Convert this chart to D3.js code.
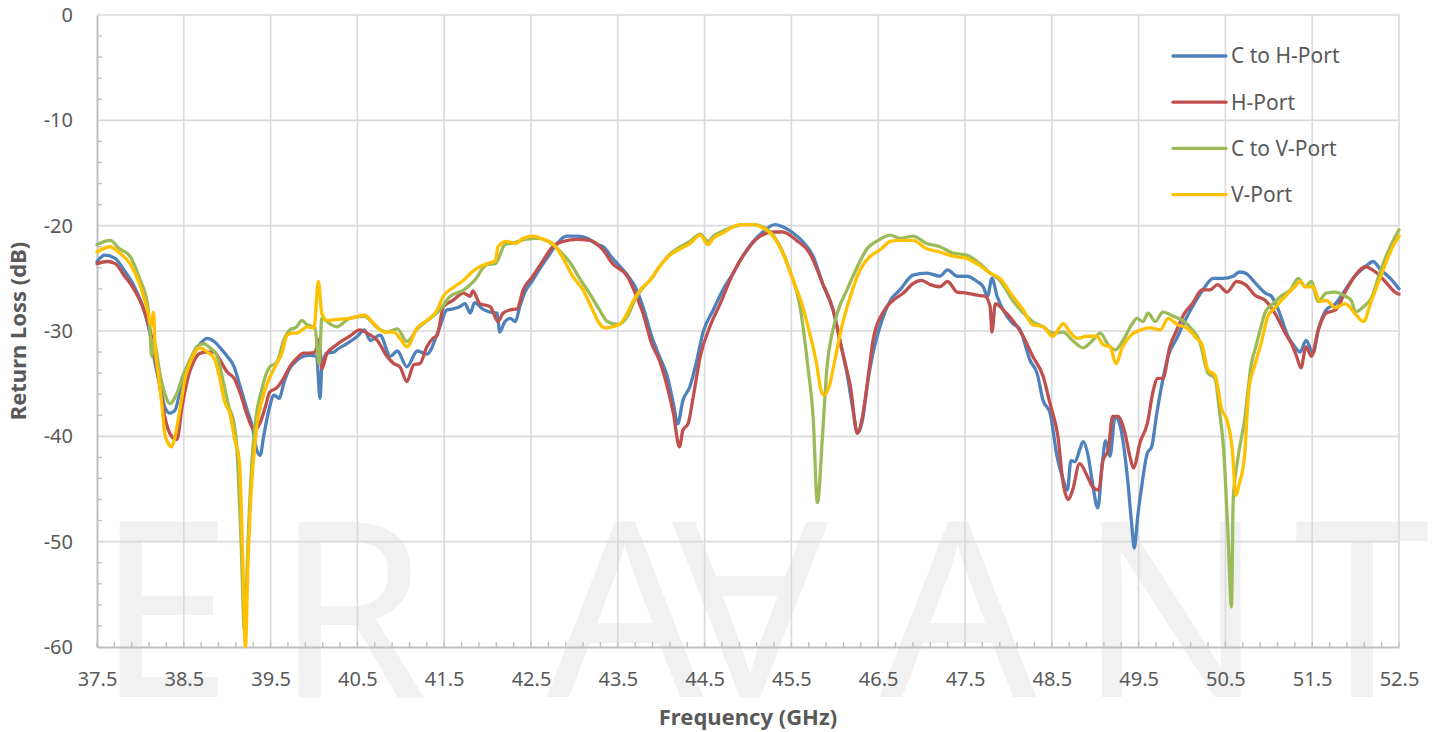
<!DOCTYPE html>
<html>
<head>
<meta charset="utf-8">
<script src="https://cdn.jsdelivr.net/npm/d3@7"></script>
<style>
  body { margin: 0; background: #fff; }
  svg { display: block; font-family: "Noto Sans", "Open Sans", sans-serif; }
</style>
</head>
<body>
<div class="chart"></div>
<script>
// Return loss data: [frequency GHz, dB]
const cToHPort = [
  [37.5, -23.4], [37.59, -22.8], [37.71, -23.1], [37.81, -24.2], [37.93, -25.8], [38.04, -28.0],
  [38.11, -30.2], [38.17, -33.1], [38.23, -35.3], [38.28, -37.2], [38.34, -37.8], [38.4, -37.5],
  [38.46, -35.6], [38.54, -33.4], [38.62, -32.0], [38.69, -31.2], [38.77, -30.7], [38.85, -31.0],
  [38.92, -31.6], [39.0, -32.4], [39.08, -33.4], [39.15, -35.3], [39.23, -37.5], [39.29, -39.1],
  [39.34, -41.3], [39.38, -41.8], [39.42, -40.0], [39.48, -37.5], [39.54, -36.1], [39.6, -36.4],
  [39.65, -35.0], [39.71, -33.7], [39.8, -32.8], [39.88, -32.4], [39.95, -32.3], [40.03, -32.4],
  [40.07, -36.4], [40.09, -33.4], [40.15, -32.1], [40.23, -32.0], [40.26, -31.8], [40.38, -31.2],
  [40.5, -30.5], [40.58, -29.9], [40.65, -30.9], [40.76, -30.4], [40.88, -32.4], [40.96, -31.9],
  [41.07, -33.4], [41.19, -31.9], [41.3, -32.2], [41.45, -29.6], [41.53, -28.0], [41.6, -27.9],
  [41.68, -27.7], [41.74, -27.4], [41.8, -28.3], [41.85, -27.3], [41.94, -27.9], [42.03, -28.2],
  [42.11, -28.3], [42.14, -30.1], [42.2, -29.1], [42.26, -28.8], [42.32, -29.1], [42.37, -27.7],
  [42.43, -26.3], [42.51, -25.3], [42.6, -24.1], [42.7, -22.9], [42.8, -21.7], [42.91, -21.0],
  [43.03, -21.0], [43.15, -21.2], [43.26, -21.8], [43.33, -22.0], [43.44, -23.1], [43.61, -24.7],
  [43.7, -25.8], [43.79, -27.7], [43.89, -30.5], [43.98, -32.4], [44.07, -34.3], [44.14, -36.9],
  [44.19, -38.8], [44.25, -36.6], [44.33, -35.3], [44.41, -32.8], [44.48, -30.2], [44.6, -28.0],
  [44.71, -26.1], [44.83, -24.5], [44.94, -22.9], [45.06, -21.5], [45.17, -20.6], [45.31, -19.9],
  [45.4, -20.1], [45.52, -20.7], [45.63, -21.5], [45.75, -22.9], [45.86, -25.5], [45.98, -28.0],
  [46.06, -30.9], [46.14, -34.0], [46.21, -37.5], [46.26, -39.7], [46.31, -38.8], [46.39, -34.3],
  [46.44, -32.1], [46.52, -29.6], [46.64, -27.1], [46.75, -26.1], [46.9, -24.7], [47.06, -24.5],
  [47.21, -24.8], [47.3, -24.2], [47.41, -24.8], [47.52, -24.8], [47.64, -25.3], [47.71, -25.8],
  [47.76, -26.7], [47.81, -25.0], [47.87, -26.7], [47.94, -28.0], [48.05, -29.3], [48.13, -29.8],
  [48.25, -32.8], [48.33, -34.0], [48.4, -36.6], [48.48, -37.8], [48.56, -41.9], [48.62, -43.8],
  [48.68, -45.1], [48.72, -42.3], [48.77, -42.4], [48.82, -41.3], [48.86, -40.5], [48.92, -41.9],
  [48.97, -44.5], [49.03, -46.8], [49.08, -42.7], [49.12, -40.4], [49.17, -41.9], [49.23, -38.1],
  [49.29, -39.1], [49.37, -43.8], [49.42, -48.3], [49.45, -50.6], [49.49, -47.6], [49.54, -44.5],
  [49.6, -41.6], [49.65, -41.0], [49.71, -37.8], [49.77, -35.0], [49.84, -32.4], [49.94, -30.7],
  [50.03, -29.1], [50.12, -27.7], [50.24, -26.1], [50.36, -25.0], [50.47, -25.0], [50.59, -24.8],
  [50.66, -24.4], [50.73, -24.5], [50.85, -25.5], [50.96, -26.4], [51.03, -26.7], [51.11, -28.0],
  [51.22, -30.5], [51.3, -31.5], [51.36, -32.0], [51.43, -30.9], [51.51, -32.1], [51.57, -29.9],
  [51.66, -28.0], [51.77, -27.4], [51.88, -26.1], [51.99, -24.8], [52.11, -23.9], [52.2, -23.4],
  [52.29, -24.2], [52.4, -25.0], [52.5, -26.0]
];

const hPort = [
  [37.5, -23.6], [37.62, -23.4], [37.71, -23.6], [37.81, -24.7], [37.93, -26.1], [38.04, -28.0],
  [38.11, -29.9], [38.17, -32.4], [38.23, -35.6], [38.28, -38.1], [38.36, -40.0], [38.42, -40.3],
  [38.48, -37.2], [38.54, -34.7], [38.62, -32.8], [38.69, -32.1], [38.77, -32.0], [38.85, -32.0],
  [38.92, -32.8], [39.0, -33.9], [39.08, -34.5], [39.15, -35.9], [39.23, -38.0], [39.29, -39.2],
  [39.32, -39.4], [39.38, -38.7], [39.44, -37.2], [39.49, -35.8], [39.57, -35.4], [39.65, -34.5],
  [39.72, -33.4], [39.8, -32.6], [39.88, -32.1], [39.95, -32.1], [40.01, -32.0], [40.06, -30.8],
  [40.09, -33.6], [40.15, -32.1], [40.23, -31.5], [40.26, -31.3], [40.41, -30.5], [40.53, -29.9],
  [40.61, -30.2], [40.73, -30.9], [40.84, -32.4], [40.92, -33.1], [40.99, -33.4], [41.07, -34.8],
  [41.15, -33.2], [41.22, -33.1], [41.3, -31.5], [41.37, -30.7], [41.42, -30.4], [41.49, -27.7],
  [41.6, -27.1], [41.72, -26.4], [41.8, -26.7], [41.83, -26.2], [41.91, -27.4], [42.03, -27.7],
  [42.12, -29.1], [42.18, -28.3], [42.26, -28.0], [42.34, -27.9], [42.41, -26.1], [42.52, -24.8],
  [42.64, -23.3], [42.75, -22.0], [42.87, -21.5], [43.03, -21.3], [43.18, -21.4], [43.33, -22.3],
  [43.44, -23.6], [43.61, -24.8], [43.7, -26.4], [43.79, -28.3], [43.89, -31.2], [43.98, -32.8],
  [44.07, -35.3], [44.14, -37.8], [44.21, -41.0], [44.25, -39.4], [44.31, -38.8], [44.37, -36.2],
  [44.45, -32.4], [44.56, -29.6], [44.68, -27.4], [44.83, -24.5], [44.99, -22.3], [45.14, -21.0],
  [45.29, -20.6], [45.4, -20.6], [45.56, -21.4], [45.71, -22.6], [45.86, -25.5], [45.98, -28.0],
  [46.09, -32.1], [46.18, -35.3], [46.26, -39.7], [46.31, -38.5], [46.39, -34.0], [46.44, -30.9],
  [46.55, -28.3], [46.67, -27.1], [46.79, -26.4], [46.9, -25.5], [47.0, -25.2], [47.1, -25.6],
  [47.21, -25.8], [47.3, -25.3], [47.41, -26.3], [47.52, -26.4], [47.64, -26.6], [47.73, -26.7],
  [47.79, -27.7], [47.81, -30.1], [47.85, -27.4], [47.94, -28.0], [48.05, -29.0], [48.17, -30.5],
  [48.28, -32.4], [48.4, -34.3], [48.48, -36.9], [48.57, -40.0], [48.63, -44.4], [48.69, -46.0],
  [48.74, -45.1], [48.82, -42.6], [48.91, -43.8], [48.97, -44.8], [49.04, -45.1], [49.09, -42.3],
  [49.15, -41.3], [49.2, -38.1], [49.26, -38.1], [49.34, -39.6], [49.4, -41.9], [49.44, -43.0],
  [49.52, -40.5], [49.6, -38.8], [49.67, -35.6], [49.72, -34.5], [49.78, -34.5], [49.86, -31.5],
  [49.94, -29.9], [50.03, -28.3], [50.12, -27.4], [50.23, -26.1], [50.32, -26.1], [50.41, -25.6],
  [50.52, -26.3], [50.63, -25.3], [50.73, -25.6], [50.84, -26.6], [50.96, -27.1], [51.07, -28.3],
  [51.19, -30.2], [51.26, -31.2], [51.32, -32.4], [51.37, -33.5], [51.43, -31.5], [51.49, -32.4],
  [51.57, -29.9], [51.66, -28.3], [51.77, -28.0], [51.88, -26.3], [51.99, -24.8], [52.11, -23.9],
  [52.23, -24.4], [52.34, -25.3], [52.47, -26.4], [52.5, -26.5]
];

const cToVPort = [
  [37.5, -21.8], [37.65, -21.4], [37.76, -22.2], [37.88, -22.9], [37.99, -25.0], [38.08, -27.4],
  [38.11, -29.9], [38.13, -32.4], [38.15, -30.8], [38.17, -31.3], [38.23, -34.3], [38.28, -35.9],
  [38.34, -36.9], [38.42, -35.9], [38.5, -34.0], [38.57, -32.8], [38.65, -31.5], [38.73, -31.2],
  [38.8, -31.6], [38.88, -32.3], [38.96, -35.0], [39.02, -37.2], [39.08, -38.8], [39.11, -41.0],
  [39.16, -50.0], [39.2, -58.5], [39.24, -50.0], [39.28, -43.0], [39.32, -39.0], [39.4, -35.5],
  [39.49, -33.4], [39.57, -33.0], [39.65, -30.9], [39.72, -29.9], [39.8, -29.6], [39.86, -29.0],
  [39.92, -29.4], [40.01, -29.7], [40.06, -33.1], [40.09, -28.8], [40.18, -29.3], [40.26, -29.6],
  [40.41, -28.8], [40.58, -28.6], [40.73, -29.7], [40.84, -30.1], [40.96, -29.8], [41.07, -31.0],
  [41.19, -29.8], [41.34, -28.8], [41.45, -28.0], [41.57, -26.7], [41.73, -26.1], [41.85, -25.2],
  [41.99, -23.7], [42.09, -23.6], [42.2, -21.8], [42.32, -21.6], [42.43, -21.3], [42.58, -21.2],
  [42.72, -21.6], [42.83, -22.4], [42.95, -23.5], [43.06, -25.0], [43.18, -26.5], [43.29, -28.0],
  [43.38, -29.1], [43.5, -29.4], [43.61, -28.6], [43.7, -27.0], [43.79, -25.9], [43.89, -25.0],
  [43.98, -23.9], [44.1, -22.7], [44.22, -22.0], [44.33, -21.5], [44.45, -20.8], [44.54, -21.5],
  [44.6, -21.0], [44.71, -20.5], [44.83, -20.1], [44.94, -19.9], [45.06, -19.9], [45.17, -20.1],
  [45.29, -20.9], [45.4, -22.5], [45.48, -24.2], [45.6, -27.7], [45.69, -33.4], [45.75, -38.1],
  [45.8, -46.3], [45.86, -39.7], [45.91, -33.4], [45.97, -30.2], [46.04, -28.0], [46.14, -26.1],
  [46.26, -23.9], [46.37, -22.2], [46.5, -21.4], [46.64, -20.9], [46.75, -21.2], [46.9, -21.0],
  [47.06, -21.7], [47.21, -22.0], [47.36, -22.6], [47.52, -22.8], [47.67, -23.6], [47.79, -24.5],
  [47.9, -25.2], [48.05, -27.1], [48.21, -28.6], [48.28, -29.1], [48.4, -29.6], [48.51, -30.2],
  [48.63, -30.1], [48.74, -30.9], [48.86, -31.6], [48.97, -30.9], [49.06, -30.2], [49.14, -31.2],
  [49.23, -31.8], [49.32, -30.9], [49.42, -29.4], [49.48, -28.8], [49.55, -29.1], [49.61, -28.3],
  [49.69, -29.1], [49.78, -28.2], [49.9, -28.6], [50.01, -29.0], [50.12, -29.9], [50.2, -30.9],
  [50.3, -34.0], [50.38, -34.5], [50.43, -37.5], [50.48, -41.3], [50.53, -49.2], [50.57, -56.2],
  [50.59, -46.0], [50.64, -42.3], [50.72, -38.5], [50.8, -33.1], [50.85, -31.5], [50.91, -29.6],
  [50.96, -28.2], [51.05, -27.4], [51.14, -26.7], [51.25, -26.1], [51.34, -25.0], [51.42, -25.8],
  [51.49, -25.3], [51.57, -27.2], [51.66, -26.4], [51.77, -26.3], [51.88, -26.7], [51.95, -27.1],
  [52.0, -28.2], [52.09, -27.7], [52.18, -26.9], [52.29, -24.2], [52.4, -22.0], [52.5, -20.4]
];

const vPort = [
  [37.5, -22.5], [37.65, -22.0], [37.76, -22.6], [37.88, -23.6], [37.99, -25.5], [38.08, -28.0],
  [38.13, -29.5], [38.15, -28.2], [38.17, -31.5], [38.21, -34.3], [38.25, -37.2], [38.28, -39.7],
  [38.33, -40.8], [38.36, -41.0], [38.4, -40.0], [38.46, -37.2], [38.51, -34.7], [38.57, -33.1],
  [38.63, -32.0], [38.69, -31.6], [38.77, -32.0], [38.85, -32.6], [38.92, -34.7], [38.97, -36.7],
  [39.03, -37.8], [39.09, -40.4], [39.14, -42.3], [39.18, -52.0], [39.21, -60.0], [39.24, -52.0],
  [39.29, -43.5], [39.31, -41.6], [39.34, -39.1], [39.4, -36.6], [39.46, -35.0], [39.52, -33.9],
  [39.57, -33.1], [39.63, -32.1], [39.69, -30.4], [39.75, -30.2], [39.8, -30.2], [39.86, -29.9],
  [39.92, -29.6], [40.0, -29.7], [40.05, -25.3], [40.09, -28.3], [40.15, -29.0], [40.26, -28.9],
  [40.41, -28.8], [40.58, -28.5], [40.69, -29.3], [40.81, -30.1], [40.92, -30.1], [40.99, -30.7],
  [41.07, -31.5], [41.19, -29.7], [41.3, -29.0], [41.42, -28.0], [41.49, -26.7], [41.6, -25.9],
  [41.72, -25.2], [41.82, -24.4], [41.91, -23.9], [42.0, -23.6], [42.09, -23.3], [42.12, -22.0],
  [42.22, -21.5], [42.32, -21.7], [42.41, -21.2], [42.52, -21.0], [42.64, -21.3], [42.75, -21.7],
  [42.87, -23.1], [42.98, -24.8], [43.1, -26.1], [43.21, -28.0], [43.29, -29.3], [43.35, -29.7],
  [43.44, -29.6], [43.53, -29.3], [43.61, -28.3], [43.68, -27.1], [43.76, -26.1], [43.87, -25.2],
  [43.98, -23.9], [44.1, -22.8], [44.22, -22.2], [44.33, -21.7], [44.45, -20.9], [44.54, -21.8],
  [44.6, -21.2], [44.71, -20.7], [44.83, -20.1], [44.94, -19.9], [45.06, -19.9], [45.17, -20.2],
  [45.29, -21.0], [45.4, -22.6], [45.52, -25.2], [45.62, -27.4], [45.71, -30.2], [45.79, -33.1],
  [45.84, -35.6], [45.88, -36.1], [45.94, -35.1], [46.0, -32.8], [46.08, -29.6], [46.18, -26.7],
  [46.29, -24.2], [46.41, -22.9], [46.52, -22.3], [46.64, -21.5], [46.75, -21.4], [46.9, -21.4],
  [47.06, -22.2], [47.21, -22.5], [47.36, -22.9], [47.52, -23.1], [47.67, -23.8], [47.79, -24.5],
  [47.9, -25.0], [48.05, -26.7], [48.17, -28.0], [48.28, -29.4], [48.4, -29.6], [48.51, -30.5],
  [48.57, -29.9], [48.63, -29.3], [48.71, -30.1], [48.79, -30.7], [48.91, -30.5], [49.02, -30.5],
  [49.09, -31.3], [49.17, -31.5], [49.24, -33.1], [49.31, -31.6], [49.4, -30.5], [49.52, -29.9],
  [49.63, -29.7], [49.75, -29.9], [49.84, -28.8], [49.95, -29.4], [50.05, -29.7], [50.17, -30.7],
  [50.23, -31.3], [50.3, -33.7], [50.38, -34.2], [50.46, -37.5], [50.52, -38.5], [50.58, -41.3],
  [50.62, -45.6], [50.66, -44.5], [50.72, -41.9], [50.77, -35.6], [50.84, -33.2], [50.91, -31.2],
  [50.99, -28.6], [51.07, -27.8], [51.19, -26.7], [51.3, -25.8], [51.36, -25.3], [51.42, -25.8],
  [51.51, -25.8], [51.59, -27.2], [51.66, -27.1], [51.77, -27.8], [51.88, -27.4], [51.99, -28.3],
  [52.09, -29.1], [52.18, -27.2], [52.29, -24.8], [52.41, -22.3], [52.5, -21.0]
];

const seriesNames = ["C to H-Port", "H-Port", "C to V-Port", "V-Port"];
const seriesColors = ["#4f81bd", "#c0504d", "#9bbb59", "#ffc000"];
const seriesData = [cToHPort, hPort, cToVPort, vPort];

const freqTicks = [37.5, 38.5, 39.5, 40.5, 41.5, 42.5, 43.5, 44.5, 45.5, 46.5, 47.5, 48.5, 49.5, 50.5, 51.5, 52.5];
const lossTicks = [0, -10, -20, -30, -40, -50, -60];
const watermarkLetters = ["E", "R", "A", "A", "A", "N", "T"];

// Set the dimensions and margins of the graph
const margin = { top: 15, right: 40, bottom: 85, left: 97 },
  width = 1439 - margin.left - margin.right,
  height = 732 - margin.top - margin.bottom;

const svg = d3
  .select(".chart")
  .append("svg")
  .attr("width", width + margin.left + margin.right)
  .attr("height", height + margin.top + margin.bottom)
  .append("g")
  .attr("transform", `translate(${margin.left},${margin.top})`);

const xScale = d3.scaleLinear().domain([37.5, 52.5]).range([0, width]);
const yScale = d3.scaleLinear().domain([-60, 0]).range([height, 0]);

// Faint logo watermark behind everything (middle "A" is flipped, like the logo's V)
const markX = [-1, 178, 528, 653, 861, 981, 1197];
const mark = svg.append("g").attr("fill", "#f1f1f1").style("font-size", "245px");
watermarkLetters.forEach((letter, i) => {
  const t = mark
    .append("text")
    .attr("x", markX[i])
    .attr("y", 682)
    .attr("text-anchor", i >= 2 && i <= 4 ? "middle" : "start")
    .text(letter);
  if (i === 3) t.attr("transform", `rotate(180, ${markX[i]}, ${682 - 87.5})`);
});

// Gridlines
svg
  .append("g")
  .selectAll("line")
  .data(freqTicks.slice(1))
  .join("line")
  .attr("x1", (d) => xScale(d))
  .attr("x2", (d) => xScale(d))
  .attr("y1", 0)
  .attr("y2", height)
  .attr("stroke", "#d9d9d9")
  .attr("stroke-width", 1.6);

svg
  .append("g")
  .selectAll("line")
  .data(lossTicks.slice(0, -1))
  .join("line")
  .attr("x1", 0)
  .attr("x2", width)
  .attr("y1", (d) => yScale(d))
  .attr("y2", (d) => yScale(d))
  .attr("stroke", "#d9d9d9")
  .attr("stroke-width", 1.6);

// Minor tick marks
svg
  .append("g")
  .selectAll("line")
  .data(d3.range(-58, 0, 2).filter((d) => d % 10 !== 0))
  .join("line")
  .attr("x1", 0)
  .attr("x2", 5)
  .attr("y1", (d) => yScale(d))
  .attr("y2", (d) => yScale(d))
  .attr("stroke", "#bfbfbf")
  .attr("stroke-width", 1.4);

svg
  .append("g")
  .selectAll("line")
  .data(d3.range(0, 76).map((i) => 37.5 + i * 0.2))
  .join("line")
  .attr("x1", (d) => xScale(d))
  .attr("x2", (d) => xScale(d))
  .attr("y1", height)
  .attr("y2", height - 5)
  .attr("stroke", "#bfbfbf")
  .attr("stroke-width", 1.4);

// Axes
const xAxis = svg
  .append("g")
  .attr("transform", `translate(0, ${height})`)
  .call(d3.axisBottom(xScale).tickValues(freqTicks).tickFormat(d3.format(".1f")).tickSize(0).tickPadding(25));

const yAxis = svg
  .append("g")
  .call(d3.axisLeft(yScale).tickValues(lossTicks).tickFormat((d) => String(d)).tickSize(0).tickPadding(24));

[xAxis, yAxis].forEach((ax) => {
  ax.select(".domain").attr("stroke", "#bfbfbf").attr("stroke-width", 2);
  ax.selectAll("text")
    .style("font-size", "20px")
    .style("font-family", '"Noto Sans", sans-serif')
    .attr("fill", "#595959");
});

// Axis titles
svg
  .append("text")
  .attr("x", width / 2)
  .attr("y", height + 78)
  .attr("text-anchor", "middle")
  .style("font-size", "22px")
  .style("font-weight", "bold")
  .attr("fill", "#595959")
  .text("Frequency (GHz)");

svg
  .append("text")
  .attr("transform", `translate(${-71}, ${height / 2}) rotate(-90)`)
  .attr("text-anchor", "middle")
  .style("font-size", "22px")
  .style("font-weight", "bold")
  .attr("fill", "#595959")
  .text("Return Loss (dB)");

// Lines
const line = d3
  .line()
  .x((d) => xScale(d[0]))
  .y((d) => yScale(d[1]))
  .curve(d3.curveMonotoneX);

svg
  .append("g")
  .selectAll("path")
  .data(seriesData)
  .join("path")
  .attr("d", line)
  .attr("fill", "none")
  .attr("stroke", (d, i) => seriesColors[i])
  .attr("stroke-width", 3.3)
  .attr("stroke-linejoin", "round")
  .attr("stroke-linecap", "round");

// Legend
const legend = svg
  .append("g")
  .attr("transform", `translate(${1173 - margin.left}, ${56 - margin.top})`);

seriesNames.forEach((name, i) => {
  const row = legend.append("g").attr("transform", `translate(0, ${i * 46.2})`);
  row
    .append("line")
    .attr("x1", 0)
    .attr("x2", 53)
    .attr("stroke", seriesColors[i])
    .attr("stroke-width", 3.3)
    .attr("stroke-linecap", "round");
  row
    .append("text")
    .attr("x", 58)
    .attr("dy", "0.35em")
    .style("font-size", "21px")
    .attr("fill", "#595959")
    .text(name);
});
</script>
</body>
</html>
